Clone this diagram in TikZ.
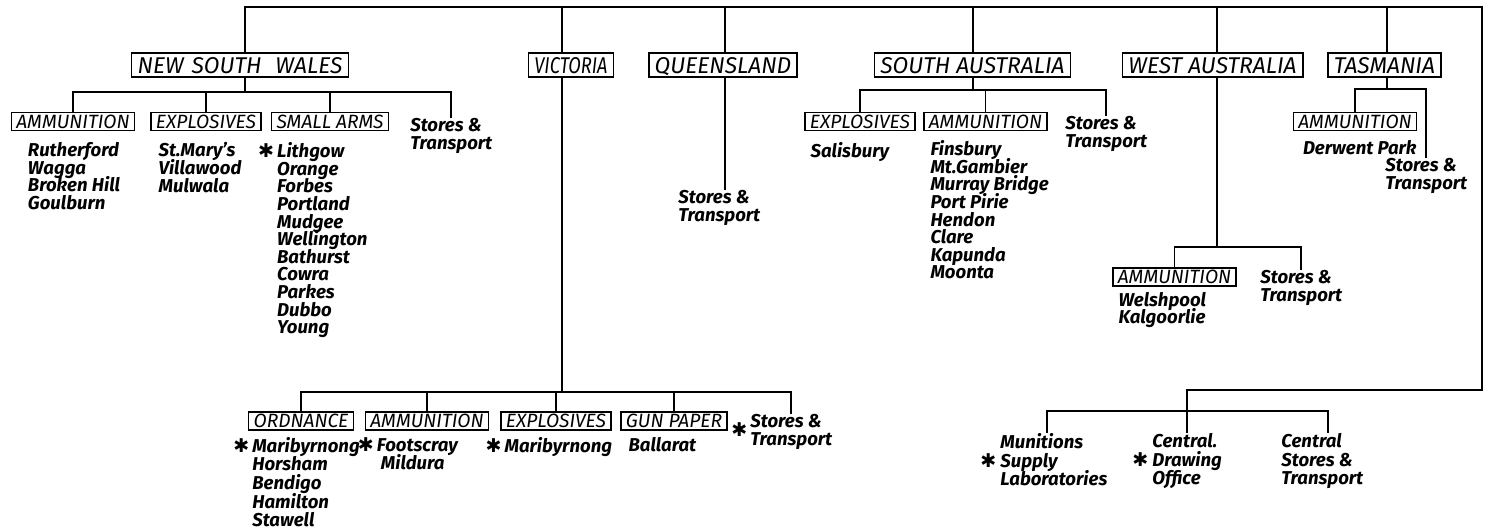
\documentclass[tikz,border=0pt]{standalone}
\usepackage{fontspec}
\setmainfont{Fira Sans}
\newfontfamily\markfont{DejaVu Sans}
\usetikzlibrary{positioning, calc}
\newcommand{\starmark}{{\markfont\fontsize{9.5}{9.5}\selectfont ✱}}
\setlength{\lineskiplimit}{-10pt}
\tikzset{
    statebox/.style={
        rectangle, draw, line width=0.9pt,
        font=\fontsize{11.4}{13}\selectfont\itshape,
        inner xsep=3pt, inner ysep=0pt,
        text height=8pt, text depth=0pt, minimum height=12pt
    },
    dept/.style={
        rectangle, draw, line width=0.75pt,
        font=\fontsize{9.6}{11}\selectfont\itshape,
        inner xsep=2.5pt, inner ysep=0pt,
        text height=6.8pt, text depth=0pt, minimum height=9pt
    },
    plant/.style={
        font=\fontsize{9.3}{8.8}\selectfont\bfseries\itshape,
        align=left, inner sep=0pt, anchor=north west
    },
    plant loose/.style={plant, font=\fontsize{9.3}{9.3}\selectfont\bfseries\itshape},
    link/.style={line width=0.9pt}
}

\begin{document}
\begin{tikzpicture}[x=0.5pt, y=-0.5pt]

    \fill[white] (0,0) rectangle (1489,530);
    \useasboundingbox (0,0) rectangle (1489,530);

    % --- States ---
    \node[statebox] (nsw) at (240,65)   {NEW\hspace{1pt} SOUTH\hspace{4pt} WALES};
    \node[statebox] (vic) at (571,65)   {\scalebox{0.8}[1]{VICTORIA}};
    \node[statebox] (qld) at (723,65)   {QUEENSLAND};
    \node[statebox] (sa)  at (972.5,65) {SOUTH AUSTRALIA};
    \node[statebox] (wa)  at (1212.5,65) {WEST AUSTRALIA};
    \node[statebox] (tas) at (1384.5,65) {TASMANIA};

    % --- New South Wales ---
    \node[dept] (nsw_amm) at (73,121.5)  {AMMUNITION};
    \node[dept] (nsw_exp) at (206,121.5) {EXPLOSIVES};
    \node[dept] (nsw_sma) at (330,121.5) {SMALL ARMS};
    \node[plant] (nsw_st) at (410,118) {Stores \&\\Transport};
    \node[plant, below right=5.5pt and 8.5pt of nsw_amm.south west] (nsw_amm_l)
        {Rutherford\\Wagga\\Broken Hill\\Goulburn};
    \node[plant, below right=5.5pt and 4pt of nsw_exp.south west] (nsw_exp_l)
        {St.Mary’s\\Villawood\\Mulwala};
    \node[plant, below right=5.5pt and 3pt of nsw_sma.south west] (nsw_sma_l)
        {\llap{\starmark\,}Lithgow\\Orange\\Forbes\\Portland\\Mudgee\\Wellington\\Bathurst\\Cowra\\Parkes\\Dubbo\\Young};

    % --- Victoria ---
    \node[dept] (vic_ord) at (301,421) {ORDNANCE};
    \node[dept] (vic_amm) at (427,421) {AMMUNITION};
    \node[dept] (vic_exp) at (556,421) {EXPLOSIVES};
    \node[dept] (vic_gun) at (674,421) {GUN PAPER};
    \node[plant] (vic_st) at (750,414) {\llap{\raisebox{-4.5pt}{\starmark}\,}Stores \&\\Transport};
    \node[plant loose, below right=3pt and 2pt of vic_ord.south west] (vic_ord_l)
        {\llap{\starmark\,}Maribyrnong\\Horsham\\Bendigo\\Hamilton\\Stawell};
    \node[plant loose, below right=3pt and 6pt of vic_amm.south west] (vic_amm_l)
        {\llap{\starmark\,}Footscray\\\hspace{2pt}Mildura};
    \node[plant loose, below right=3pt and 2pt of vic_exp.south west] (vic_exp_l)
        {\llap{\starmark\,}Maribyrnong};
    \node[plant loose, below right=3pt and 4pt of vic_gun.south west] (vic_gun_l)
        {Ballarat};

    % --- Queensland ---
    \node[plant] (qld_st) at (678,190) {Stores \&\\Transport};

    % --- South Australia ---
    \node[dept] (sa_exp) at (860,121.5)   {EXPLOSIVES};
    \node[dept] (sa_amm) at (985.5,121.5) {AMMUNITION};
    \node[plant] (sa_st) at (1065,116) {Stores \&\\Transport};
    \node[plant, below right=5.5pt and 3pt of sa_exp.south west] (sa_exp_l)
        {Salisbury};
    \node[plant, below right=4.5pt and 3.5pt of sa_amm.south west] (sa_amm_l)
        {Finsbury\\Mt.Gambier\\Murray Bridge\\Port Pirie\\Hendon\\Clare\\Kapunda\\Moonta};

    % --- West Australia ---
    \node[dept] (wa_amm) at (1174.5,277) {AMMUNITION};
    \node[plant] (wa_st) at (1260,270) {Stores \&\\Transport};
    \node[plant, below right=2.5pt and 3pt of wa_amm.south west] (wa_amm_l)
        {Welshpool\\Kalgoorlie};

    % --- Tasmania ---
    \node[dept] (tas_amm) at (1355,121.5) {AMMUNITION};
    \node[plant] (tas_st) at (1385,158) {Stores \&\\Transport};
    \node[plant, below right=4.5pt and 5pt of tas_amm.south west] (tas_amm_l)
        {Derwent Park};

    % --- Central ---
    \node[plant loose] (msl) at (1000,433) {Munitions\\\llap{\starmark\ }Supply\\Laboratories};
    \node[plant loose] (cdo) at (1152,433) {Central.\\\llap{\starmark\ }Drawing\\Office};
    \node[plant loose] (cst) at (1281,433) {Central\\Stores \&\\Transport};

    % --- Junctions ---
    \coordinate (topN) at (245,7);
    \coordinate (topV) at (562,7);
    \coordinate (topQ) at (725,7);
    \coordinate (topS) at (973,7);
    \coordinate (topW) at (1217,7);
    \coordinate (topT) at (1387,7);
    \coordinate (topR) at (1482,7);
    \coordinate (midR) at (1482,390);
    \coordinate (nswbus) at (245,92);
    \coordinate (vicbus) at (562,392);
    \coordinate (sabus)  at (973,90);
    \coordinate (wabus)  at (1217,247);
    \coordinate (tasbus) at (1387,89);
    \coordinate (cbusL)  at (1047,411);
    \coordinate (cbusR)  at (1328,411);

    % --- Main line ---
    \draw[link] (topN |- nsw.north) -- (topN) -- (topR) -- (midR) -| (cdo.north);
    \draw[link] (topV) -- (topV |- vic.north);
    \draw[link] (topQ) -- (topQ |- qld.north);
    \draw[link] (topS) -- (topS |- sa.north);
    \draw[link] (topW) -- (topW |- wa.north);
    \draw[link] (topT) -- (topT |- tas.north);

    % --- NSW branches ---
    \draw[link] (nsw.south -| nswbus) -- (nswbus);
    \draw[link] (nsw_amm.north) |- (nsw_st.north |- nswbus) -- (nsw_st.north);
    \draw[link] (nsw_exp.north) -- (nsw_exp.north |- nswbus);
    \draw[link] (nsw_sma.north) -- (nsw_sma.north |- nswbus);

    % --- VIC branches ---
    \draw[link] (vic.south -| vicbus) -- (vicbus);
    \draw[link] (vic_ord.north) |- (vic_st.north |- vicbus) -- (vic_st.north);
    \draw[link] (vic_amm.north) -- (vic_amm.north |- vicbus);
    \draw[link] (vic_exp.north) -- (vic_exp.north |- vicbus);
    \draw[link] (vic_gun.north) -- (vic_gun.north |- vicbus);

    % --- QLD ---
    \draw[link] (qld.south -| topQ) -- (topQ |- qld_st.north);

    % --- SA branches ---
    \draw[link] (sa.south -| sabus) -- (sabus);
    \draw[link] (sa_exp.north) |- (sa_st.north |- sabus) -- (sa_st.north);
    \draw[link] (sa_amm.north) -- (sa_amm.north |- sabus);

    % --- WA branches ---
    \draw[link] (wa.south -| wabus) -- (wabus);
    \draw[link] (wa_amm.north) |- (wa_st.north |- wabus) -- (wa_st.north);

    % --- TAS branches ---
    \draw[link] (tas.south -| tasbus) -- (tasbus);
    \draw[link] (tas_amm.north) |- (tas_st.north |- tasbus) -- (tas_st.north);

    % --- Central branches ---
    \draw[link] (cbusL |- msl.north) |- (cbusR) -- (cbusR |- cst.north);

\end{tikzpicture}
\end{document}
